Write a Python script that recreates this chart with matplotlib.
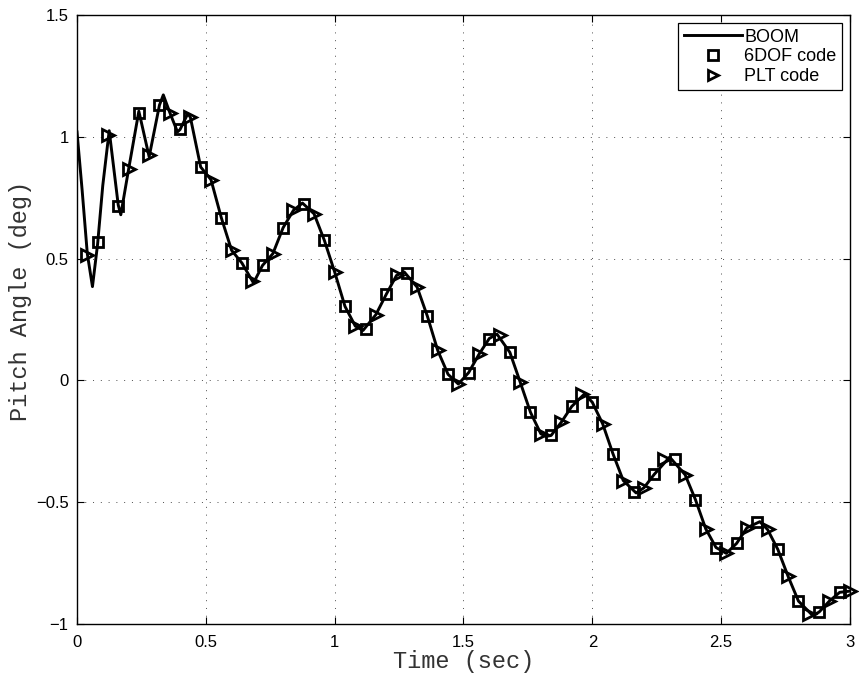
import matplotlib
matplotlib.use("Agg")
import matplotlib.pyplot as plt

# BOOM reference solution (sec, deg)
boom_t = [0.00, 0.02, 0.04, 0.06, 0.08, 0.10, 0.125, 0.16, 0.17, 0.20,
          0.24, 0.28, 0.32, 0.335, 0.36, 0.39, 0.40, 0.43, 0.44, 0.48,
          0.52, 0.56, 0.60, 0.64, 0.685, 0.72, 0.76, 0.80, 0.84, 0.875,
          0.92, 0.96, 1.00, 1.04, 1.08, 1.11, 1.16, 1.20, 1.24, 1.27,
          1.32, 1.36, 1.40, 1.44, 1.48, 1.52, 1.56, 1.60, 1.63, 1.68,
          1.72, 1.76, 1.80, 1.82, 1.84, 1.88, 1.92, 1.97, 2.00, 2.04,
          2.08, 2.12, 2.17, 2.20, 2.24, 2.30, 2.36, 2.40, 2.44, 2.48,
          2.52, 2.56, 2.60, 2.65, 2.68, 2.72, 2.76, 2.80, 2.855, 2.88,
          2.92, 2.96, 3.00]
boom_y = [1.02, 0.78, 0.52, 0.385, 0.56, 0.80, 1.025, 0.72, 0.68, 0.865,
          1.105, 0.918, 1.13, 1.172, 1.10, 1.02, 1.03, 1.095, 1.08, 0.876,
          0.824, 0.668, 0.534, 0.482, 0.400, 0.472, 0.520, 0.627, 0.698, 0.728,
          0.684, 0.575, 0.445, 0.304, 0.223, 0.205, 0.270, 0.353, 0.431, 0.445,
          0.383, 0.263, 0.123, 0.025, -0.015, 0.032, 0.107, 0.172, 0.190, 0.115,
          -0.007, -0.131, -0.219, -0.230, -0.226, -0.171, -0.107, -0.055, -0.090, -0.178,
          -0.301, -0.411, -0.462, -0.441, -0.386, -0.315, -0.387, -0.489, -0.609, -0.686,
          -0.710, -0.669, -0.605, -0.580, -0.612, -0.694, -0.805, -0.906, -0.965, -0.951,
          -0.906, -0.870, -0.865]

# 6DOF code output
sq_t = [0.08, 0.16, 0.24, 0.32, 0.40, 0.48, 0.56, 0.64, 0.72, 0.80,
        0.88, 0.96, 1.04, 1.12, 1.20, 1.28, 1.36, 1.44, 1.52, 1.60,
        1.68, 1.76, 1.84, 1.92, 2.00, 2.08, 2.16, 2.24, 2.32, 2.40,
        2.48, 2.56, 2.64, 2.72, 2.80, 2.88, 2.96]
sq_y = [0.567, 0.716, 1.099, 1.132, 1.033, 0.876, 0.668, 0.482, 0.472, 0.627,
        0.725, 0.575, 0.304, 0.209, 0.353, 0.439, 0.263, 0.025, 0.032, 0.172,
        0.115, -0.131, -0.226, -0.107, -0.090, -0.301, -0.460, -0.386, -0.324, -0.489,
        -0.686, -0.669, -0.583, -0.694, -0.906, -0.951, -0.870]

# PLT code output
tri_t = [0.04, 0.12, 0.20, 0.28, 0.36, 0.44, 0.52, 0.60, 0.68, 0.76,
         0.84, 0.92, 1.00, 1.08, 1.16, 1.24, 1.32, 1.40, 1.48, 1.56,
         1.64, 1.72, 1.80, 1.88, 1.96, 2.04, 2.12, 2.20, 2.28, 2.36,
         2.44, 2.52, 2.60, 2.68, 2.76, 2.84, 2.92, 3.00]
tri_y = [0.513, 1.009, 0.866, 0.926, 1.097, 1.080, 0.824, 0.534, 0.408, 0.520,
         0.698, 0.684, 0.445, 0.223, 0.270, 0.431, 0.383, 0.123, -0.014, 0.107,
         0.188, -0.007, -0.219, -0.171, -0.057, -0.178, -0.411, -0.441, -0.324, -0.387,
         -0.609, -0.707, -0.605, -0.612, -0.805, -0.961, -0.906, -0.865]

xticks = [0, 0.5, 1, 1.5, 2, 2.5, 3]
xticklabels = ["0", "0.5", "1", "1.5", "2", "2.5", "3"]
yticks = [-1, -0.5, 0, 0.5, 1, 1.5]
yticklabels = ["\u22121", "\u22120.5", "0", "0.5", "1", "1.5"]

plt.rcParams["font.family"] = ["Liberation Sans", "DejaVu Sans"]

fig = plt.figure(figsize=(8.59, 6.77), dpi=100)
ax = fig.add_axes([77 / 859, 53 / 677, 773 / 859, 609 / 677])

ax.plot(boom_t, boom_y, color="k", lw=2.1, label="BOOM", zorder=3)
ax.plot(sq_t, sq_y, ls="none", marker="s", ms=7.5, mfc="none", mec="k", mew=2.0,
        label="6DOF code", zorder=4, clip_on=False)
ax.plot(tri_t, tri_y, ls="none", marker=">", ms=8.5, mfc="none", mec="k", mew=2.0,
        label="PLT code", zorder=5, clip_on=False)

ax.set_xlim(0, 3)
ax.set_ylim(-1, 1.5)
ax.set_xticks(xticks)
ax.set_xticklabels(xticklabels)
ax.set_yticks(yticks)
ax.set_yticklabels(yticklabels)
ax.tick_params(direction="in", length=5, width=0.8, top=True, right=True,
               labelsize=12)
ax.tick_params(axis="x", pad=8)
ax.tick_params(axis="y", pad=6)
for s in ax.spines.values():
    s.set_linewidth(1.0)

# sparse dotted grid
ax.grid(True, color="0.3", ls=(0, (1, 7)), lw=0.7)

mono = ["Liberation Mono", "DejaVu Sans Mono"]
ax.set_xlabel("Time (sec)", family=mono, fontsize=17, color="#333333")
ax.set_ylabel("Pitch Angle (deg)", family=mono, fontsize=17, color="#333333")
ax.xaxis.set_label_coords(0.5, -0.042)
ax.yaxis.set_label_coords(-0.058, 0.53)

leg = ax.legend(loc="upper right", fontsize=13, numpoints=1, fancybox=False,
                framealpha=1, edgecolor="k", borderaxespad=0.45,
                handlelength=3.2, handletextpad=0.15, labelspacing=0.15,
                borderpad=0.3)
leg.get_frame().set_linewidth(0.9)
for h in leg.legend_handles:
    h.set_markersize(6.5)

fig.savefig("out.png", dpi=100)
